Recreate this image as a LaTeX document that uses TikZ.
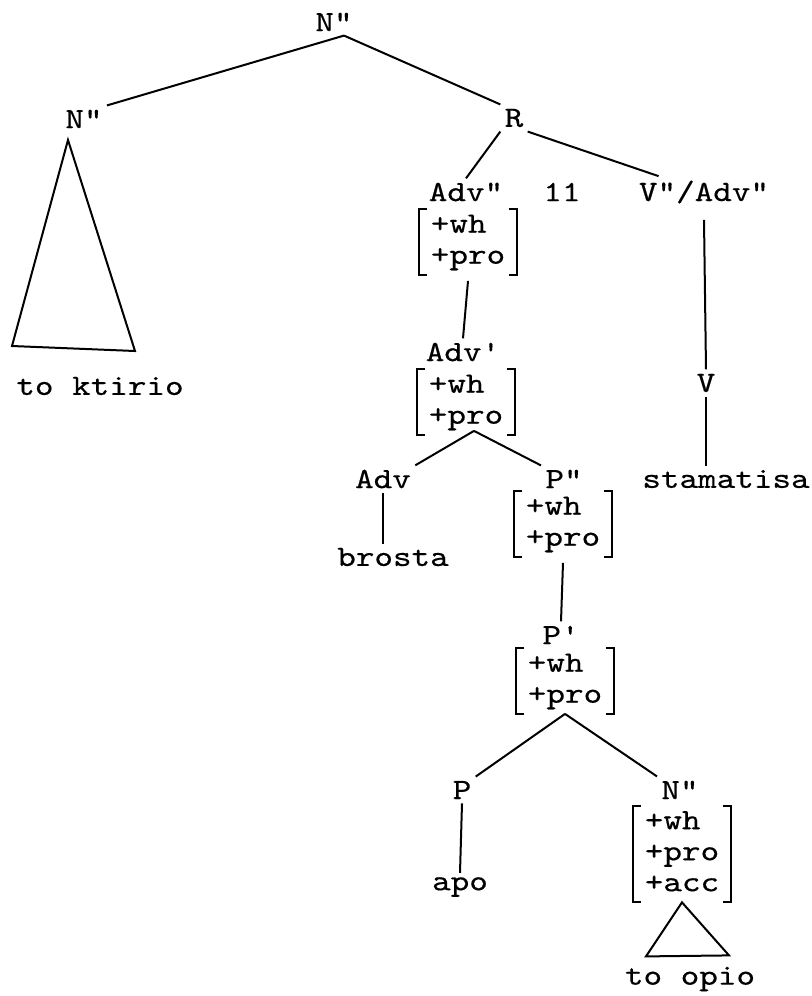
\documentclass[tikz,border=0pt]{standalone}
\usepackage{fontspec}
\setmonofont{lmmono10-regular.otf}[FakeStretch=1.2,FakeBold=0.4]
\newcommand{\featbrackets}[1]{%
  \draw[branch] ([xshift=4pt]#1.north west) -- (#1.north west) -- (#1.south west) -- ([xshift=4pt]#1.south west);
  \draw[branch] ([xshift=-4pt]#1.north east) -- (#1.north east) -- (#1.south east) -- ([xshift=-4pt]#1.south east);}

\begin{document}
\begin{tikzpicture}[x=.5pt,y=-.5pt,
  cat/.style={inner sep=2pt,font=\ttfamily\fontsize{14.75}{15.5}\selectfont},
  feats/.style={inner xsep=5.5pt,inner ysep=0.75pt,font=\ttfamily\fontsize{14.75}{15.5}\selectfont},
  branch/.style={line width=1pt}]
\path[use as bounding box] (0,0) rectangle (812,996);
\path[fill=white,draw=none] (0,0) rectangle (812,996);
\node[cat] (top) at (334,22) {N"};
\node[cat] (nleft) at (84,119) {N"};
\node[cat] (r) at (514,118) {R};
\node[cat] (advpp) at (466,192) {Adv"};
\node[feats] (advppf) at (468,242) {\begin{tabular}{@{}l@{}}+wh\\+pro\end{tabular}};
\node[cat] (eleven) at (562,192) {11};
\node[cat] (vpp) at (704,192) {V"/Adv"};
\node[cat] (advp) at (463,352) {Adv'};
\node[feats] (advpf) at (466,402) {\begin{tabular}{@{}l@{}}+wh\\+pro\end{tabular}};
\node[cat] (adv) at (383,479) {Adv};
\node[cat] (brosta) at (393,557) {brosta};
\node[cat] (ppp) at (564,479) {P"};
\node[feats] (pppf) at (563,524) {\begin{tabular}{@{}l@{}}+wh\\+pro\end{tabular}};
\node[cat] (pp) at (561,635) {P'};
\node[feats] (ppf) at (565,681) {\begin{tabular}{@{}l@{}}+wh\\+pro\end{tabular}};
\node[cat] (v) at (706,383) {V};
\node[cat] (stamatisa) at (726,479) {stamatisa};
\node[cat] (p) at (462,790) {P};
\node[cat] (apo) at (460,887) {apo};
\node[cat] (npp) at (680,790) {N"};
\node[feats] (nppf) at (682,854) {\begin{tabular}{@{}l@{}}+wh\\+pro\\+acc\end{tabular}};
\node[cat] (opio) at (690,979) {to opio};
\node[cat] (ktirio) at (100,386) {to ktirio};
\coordinate (ktiriotop) at (68,140);
\featbrackets{advppf}
\featbrackets{advpf}
\featbrackets{pppf}
\featbrackets{ppf}
\featbrackets{nppf}
\draw[branch] ([xshift=5pt]top.south) -- (nleft.north east);
\draw[branch] ([xshift=5pt]top.south) -- (r.north west);
\draw[branch] (r.south west) -- (advpp.north);
\draw[branch] (r.south east) -- ([xshift=12pt]vpp.north west);
\draw[branch] ([yshift=-3pt]advppf.south) -- (advp.north);
\draw[branch] ([yshift=-6pt]vpp.south) -- (v.north);
\draw[branch] (v.south) -- (v.south |- stamatisa.north);
\draw[branch] ([xshift=4pt,yshift=2pt]advpf.south) -- (adv.north east);
\draw[branch] ([xshift=4pt,yshift=2pt]advpf.south) -- (ppp.north west);
\draw[branch] (adv.south) -- (adv.south |- brosta.north);
\draw[branch] ([yshift=-3pt]pppf.south) -- (pp.north);
\draw[branch] (ppf.south) -- (p.north east);
\draw[branch] (ppf.south) -- (npp.north west);
\draw[branch] (p.south) -- (apo.north);
\draw[branch] (ktiriotop) -- ++(-56,206) -- ++(123,5) -- cycle;
\draw[branch] (nppf.south) -- ++(-36,54) -- ++(83,-1) -- cycle;
\end{tikzpicture}
\end{document}
